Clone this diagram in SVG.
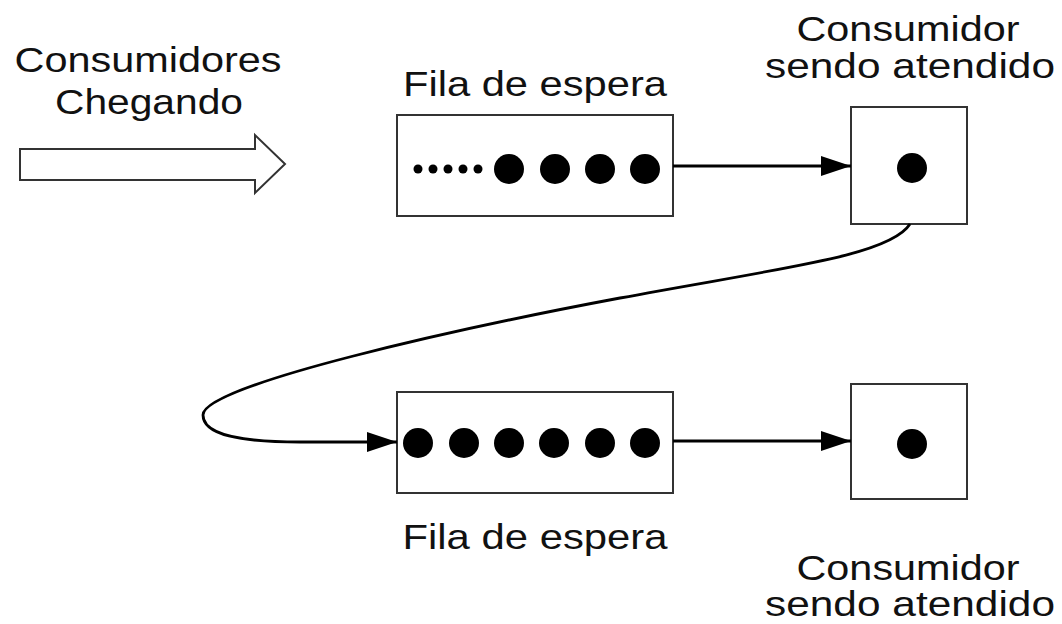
<svg xmlns="http://www.w3.org/2000/svg" width="1062" height="624" viewBox="0 0 1062 624">
  <defs>
    <marker id="arrowhead" markerUnits="userSpaceOnUse" markerWidth="31" markerHeight="22" refX="30" refY="10" orient="auto">
      <path d="M0,0 L30,10 L0,20 Z" fill="#000"/>
    </marker>
  </defs>
  <style>
    .label { font-family: "Liberation Sans", Arial, sans-serif; font-size: 35px; fill: #111; text-anchor: middle; }
    .box { fill: #fff; stroke: #333; stroke-width: 2; }
    .dot { fill: #000; }
    .link { fill: none; stroke: #000; stroke-width: 2.8; marker-end: url(#arrowhead); }
  </style>
  <rect width="1062" height="624" fill="#fff"/>

  <!-- arrivals -->
  <g id="arrivals">
    <text class="label" x="148" y="72" textLength="267" lengthAdjust="spacingAndGlyphs">Consumidores</text>
    <text class="label" x="149" y="114" textLength="188" lengthAdjust="spacingAndGlyphs">Chegando</text>
    <polygon points="20,149 255,149 255,135 285,164 255,193 255,180 20,180" fill="#fff" stroke="#333" stroke-width="2"/>
  </g>

  <!-- first waiting line -->
  <g id="queue-top">
    <text class="label" x="535" y="96" textLength="264" lengthAdjust="spacingAndGlyphs">Fila de espera</text>
    <rect class="box" x="397" y="115" width="276" height="101"/>
    <circle class="dot" cx="418" cy="169" r="4.5"/>
    <circle class="dot" cx="433" cy="169" r="4.5"/>
    <circle class="dot" cx="448" cy="169" r="4.5"/>
    <circle class="dot" cx="463" cy="169" r="4.5"/>
    <circle class="dot" cx="478" cy="169" r="4.5"/>
    <circle class="dot" cx="509" cy="169" r="15"/>
    <circle class="dot" cx="555" cy="169" r="15"/>
    <circle class="dot" cx="600" cy="169" r="15"/>
    <circle class="dot" cx="645" cy="169" r="15"/>
  </g>

  <!-- first server -->
  <g id="server-top">
    <text class="label" x="908" y="41" textLength="223" lengthAdjust="spacingAndGlyphs">Consumidor</text>
    <text class="label" x="910" y="78" textLength="290" lengthAdjust="spacingAndGlyphs">sendo atendido</text>
    <rect class="box" x="851" y="107" width="116" height="117"/>
    <circle class="dot" cx="912" cy="168" r="15"/>
  </g>

  <!-- second waiting line -->
  <g id="queue-bottom">
    <rect class="box" x="397" y="392" width="276" height="101"/>
    <circle class="dot" cx="418" cy="443" r="15"/>
    <circle class="dot" cx="464" cy="443" r="15"/>
    <circle class="dot" cx="509" cy="443" r="15"/>
    <circle class="dot" cx="554" cy="443" r="15"/>
    <circle class="dot" cx="600" cy="443" r="15"/>
    <circle class="dot" cx="645" cy="443" r="15"/>
    <text class="label" x="535" y="549" textLength="265" lengthAdjust="spacingAndGlyphs">Fila de espera</text>
  </g>

  <!-- second server -->
  <g id="server-bottom">
    <rect class="box" x="851" y="384" width="116" height="115"/>
    <circle class="dot" cx="912" cy="444" r="15"/>
    <text class="label" x="908" y="580" textLength="223" lengthAdjust="spacingAndGlyphs">Consumidor</text>
    <text class="label" x="910" y="616" textLength="290" lengthAdjust="spacingAndGlyphs">sendo atendido</text>
  </g>

  <!-- connectors -->
  <g id="connectors">
    <path class="link" d="M673,166 L851,166"/>
    <path class="link" d="M910,224 C890,256 780,268 620,298 C460,328 203,385 203,415 C203,435 240,442 300,442 L397,442"/>
    <path class="link" d="M673,441 L851,441"/>
  </g>
</svg>
